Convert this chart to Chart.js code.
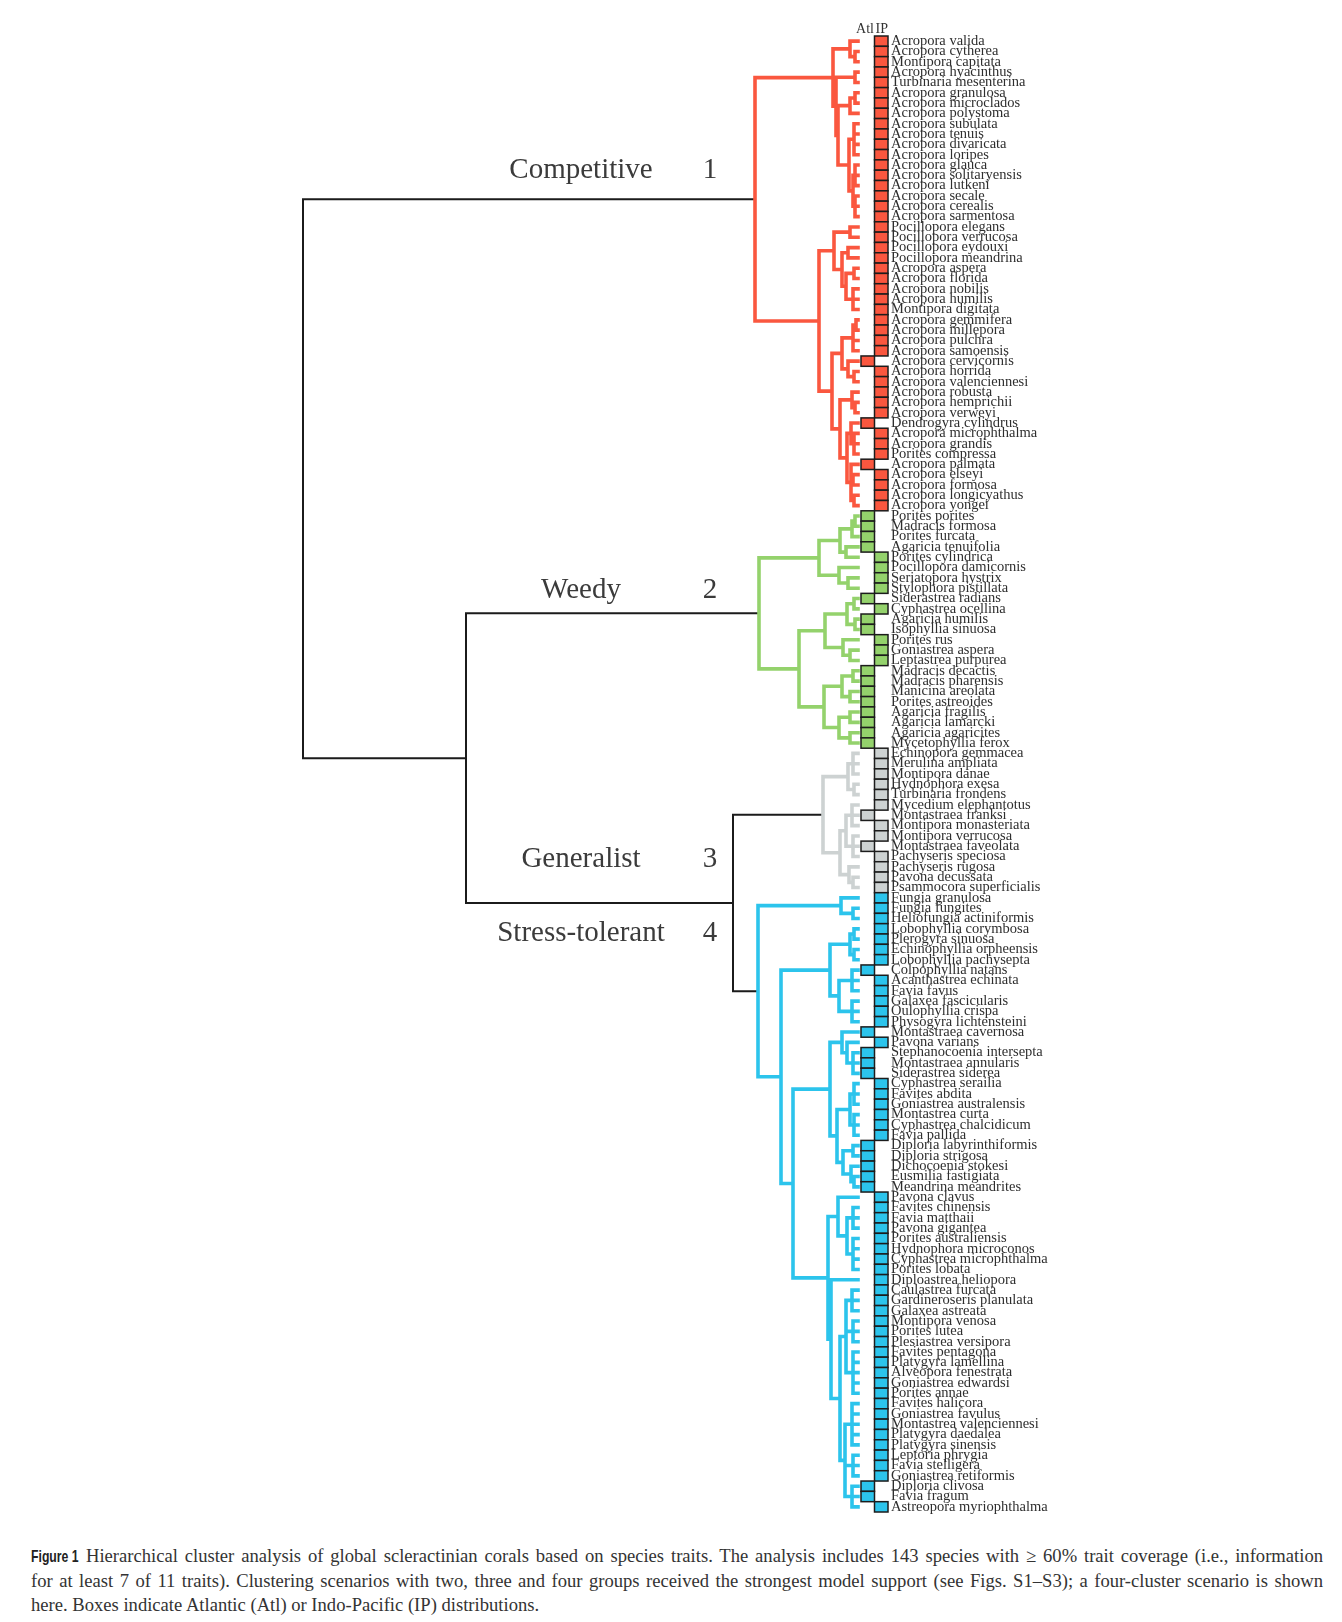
<!DOCTYPE html>
<html>
<head>
<meta charset="utf-8">
<script src="https://cdn.jsdelivr.net/npm/chart.js@4.4.0/dist/chart.umd.min.js"></script>
<style>
  html, body { margin: 0; padding: 0; background: #fff; }
  #page { position: relative; width: 1342px; height: 1622px; }
  #wrap { position: absolute; left: 0; top: 0; width: 1342px; height: 1530px; }
  #caption { position: absolute; left: 31px; top: 1544px; width: 1292px;
             font-family: "Liberation Serif", serif; font-size: 18.6px; line-height: 24px; color: #333; }
  #caption div { text-align: justify; text-align-last: justify; }
  #caption div.last { text-align-last: left; }
  #caption b { display: inline-block; font-family: "Liberation Sans", sans-serif; font-size: 17px;
               transform: scaleX(0.72); transform-origin: left center; margin-right: -18px; color: #222; }
</style>
</head>
<body>
<div id="page">
  <div id="wrap"><canvas id="chart"></canvas></div>
  <div id="caption">
    <div><b>Figure 1</b> Hierarchical cluster analysis of global scleractinian corals based on species traits. The analysis includes 143 species with &ge; 60% trait coverage (i.e., information</div>
    <div>for at least 7 of 11 traits). Clustering scenarios with two, three and four groups received the strongest model support (see Figs. S1&ndash;S3); a four-cluster scenario is shown</div>
    <div class="last">here. Boxes indicate Atlantic (Atl) or Indo-Pacific (IP) distributions.</div>
  </div>
</div>
<script>
// leaf order, top to bottom
const species = [
  'Acropora valida', 'Acropora cytherea', 'Montipora capitata', 'Acropora hyacinthus', 'Turbinaria mesenterina',
  'Acropora granulosa', 'Acropora microclados', 'Acropora polystoma', 'Acropora subulata', 'Acropora tenuis',
  'Acropora divaricata', 'Acropora loripes', 'Acropora glauca', 'Acropora solitaryensis', 'Acropora lutkeni',
  'Acropora secale', 'Acropora cerealis', 'Acropora sarmentosa', 'Pocillopora elegans', 'Pocillopora verrucosa',
  'Pocillopora eydouxi', 'Pocillopora meandrina', 'Acropora aspera', 'Acropora florida', 'Acropora nobilis',
  'Acropora humilis', 'Montipora digitata', 'Acropora gemmifera', 'Acropora millepora', 'Acropora pulchra',
  'Acropora samoensis', 'Acropora cervicornis', 'Acropora horrida', 'Acropora valenciennesi', 'Acropora robusta',
  'Acropora hemprichii', 'Acropora verweyi', 'Dendrogyra cylindrus', 'Acropora microphthalma', 'Acropora grandis',
  'Porites compressa', 'Acropora palmata', 'Acropora elseyi', 'Acropora formosa', 'Acropora longicyathus',
  'Acropora yongei',
  'Porites porites', 'Madracis formosa', 'Porites furcata', 'Agaricia tenuifolia', 'Porites cylindrica',
  'Pocillopora damicornis', 'Seriatopora hystrix', 'Stylophora pistillata', 'Siderastrea radians', 'Cyphastrea ocellina',
  'Agaricia humilis', 'Isophyllia sinuosa', 'Porites rus', 'Goniastrea aspera', 'Leptastrea purpurea',
  'Madracis decactis', 'Madracis pharensis', 'Manicina areolata', 'Porites astreoides', 'Agaricia fragilis',
  'Agaricia lamarcki', 'Agaricia agaricites', 'Mycetophyllia ferox',
  'Echinopora gemmacea', 'Merulina ampliata', 'Montipora danae', 'Hydnophora exesa', 'Turbinaria frondens',
  'Mycedium elephantotus', 'Montastraea franksi', 'Montipora monasteriata', 'Montipora verrucosa', 'Montastraea faveolata',
  'Pachyseris speciosa', 'Pachyseris rugosa', 'Pavona decussata', 'Psammocora superficialis',
  'Fungia granulosa', 'Fungia fungites', 'Heliofungia actiniformis', 'Lobophyllia corymbosa', 'Plerogyra sinuosa',
  'Echinophyllia orpheensis', 'Lobophyllia pachysepta', 'Colpophyllia natans', 'Acanthastrea echinata', 'Favia favus',
  'Galaxea fascicularis', 'Oulophyllia crispa', 'Physogyra lichtensteini', 'Montastraea cavernosa', 'Pavona varians',
  'Stephanocoenia intersepta', 'Montastraea annularis', 'Siderastrea siderea', 'Cyphastrea serailia', 'Favites abdita',
  'Goniastrea australensis', 'Montastrea curta', 'Cyphastrea chalcidicum', 'Favia pallida', 'Diploria labyrinthiformis',
  'Diploria strigosa', 'Dichocoenia stokesi', 'Eusmilia fastigiata', 'Meandrina meandrites', 'Pavona clavus',
  'Favites chinensis', 'Favia matthaii', 'Pavona gigantea', 'Porites australiensis', 'Hydnophora microconos',
  'Cyphastrea microphthalma', 'Porites lobata', 'Diploastrea heliopora', 'Caulastrea furcata', 'Gardineroseris planulata',
  'Galaxea astreata', 'Montipora venosa', 'Porites lutea', 'Plesiastrea versipora', 'Favites pentagona',
  'Platygyra lamellina', 'Alveopora fenestrata', 'Goniastrea edwardsi', 'Porites annae', 'Favites halicora',
  'Goniastrea favulus', 'Montastrea valenciennesi', 'Platygyra daedalea', 'Platygyra sinensis', 'Leptoria phrygia',
  'Favia stelligera', 'Goniastrea retiformis', 'Diploria clivosa', 'Favia fragum', 'Astreopora myriophthalma'
];

// leaves with an Atlantic box; all others are Indo-Pacific
const atlanticLeaves = [31, 37, 41, 46, 47, 48, 49, 54, 56, 57, 61, 62, 63, 64, 65, 66, 67, 68,
  75, 78, 90, 96, 98, 99, 100, 107, 108, 109, 110, 111, 140, 141];

// clusters as [mergeHeight, child, child, ...]; numbers are leaf indices
const competitiveTree = [1.03,
  [0.25, [0.08, 0, [0.03, 1, 2]],
    [0.22, [0.03, 3, 4],
      [0.20, [0.08, [0.03, 5, 6], 7],
        [0.09, [0.04, 8, 9, 10, 11], [0.05, [0.03, 12, 13, 14], [0.03, 15, 16, 17]]]]]],
  [0.39,
    [0.24, [0.08, 18, 19], [0.16, [0.10, 20, 21], [0.12, [0.04, 22, 23], [0.05, 24, 25, 26]]]],
    [0.26,
      [0.16, [0.05, [0.02, 27, 28], 29, 30], [0.10, 31, [0.04, 32, 33]]],
      [0.18, [0.06, 34, [0.03, 35, 36]],
        [0.11, [0.07, 37, [0.04, 38, 39, 40]], [0.07, 41, [0.05, 42, 43], [0.04, 44, 45]]]]]]];

const weedyTree = [0.99,
  [0.39, [0.18, [0.06, [0.03, 46, 47], 48], [0.12, 49, 50]], [0.19, 51, [0.10, 52, 53]]],
  [0.59,
    [0.33, [0.11, [0.04, 54, 55], [0.03, 56, 57]], [0.15, 58, [0.08, 59, 60]]],
    [0.34, [0.16, [0.05, 61, 62], [0.08, 63, 64]], [0.19, [0.08, 65, 66], [0.08, 67, 68]]]]];

const generalistTree = [0.35,
  [0.10, [0.05, 69, 70, 71], [0.04, 72, 73]],
  [0.18, [0.12, [0.06, 74, 75, 76], [0.05, 77, 78, 79]], [0.09, 80, [0.05, 81, 82]]]];

const stressTree = [1.00,
  [0.17, 83, [0.05, 84, 85]],
  [0.77,
    [0.28, [0.08, [0.04, 86, 87], [0.04, 88, 89]], [0.19, [0.06, 90, 91, 92], [0.06, 93, 94, 95]]],
    [0.65,
      [0.28, [0.16, 96, [0.11, 97, [0.05, 98, 99, 100]]],
        [0.21, [0.08, [0.04, 101, 102, 103], [0.04, 104, 105, 106]],
          [0.15, [0.05, 107, 108], [0.07, 109, [0.04, 110, 111]]]]],
      [0.30, [0.20, 112, [0.11, [0.05, 113, 114, 115], [0.05, 116, 117, 118, 119]]],
        [0.27, 120,
          [0.18, [0.12, [0.06, 121, 122, 123], [0.05, 124, 125, 126], [0.05, 127, 128, 129, 130, 131]],
            [0.13, [0.06, 132, 133, 134, 135, 136], [0.05, 137, 138, 139], [0.06, 140, 141, 142]]]]]]]];

const clusterNames = ['Competitive', 'Weedy', 'Generalist', 'Stress-tolerant'];
const clusterTrees = [competitiveTree, weedyTree, generalistTree, stressTree];
// root, weedy vs rest, generalist vs stress-tolerant
const mergeHeights = [5.55, 3.92, 1.25];

const clusterColors = ['#fa573f', '#94d26c', '#cdd2d2', '#2cc4ec'];
const linkColor = '#1b1b1b';

const segments = {};
const leafColor = [];

function addLine(color, x0, y0, x1, y1) {
  if (!segments[color]) segments[color] = [];
  segments[color].push({x: x0, y: y0}, {x: x1, y: y1}, {x: NaN, y: NaN});
}

function join(h, kids, color) {
  addLine(color, h, kids[0].y, h, kids[kids.length - 1].y);
  kids.forEach(function (k) { addLine(color, k.h, k.y, h, k.y); });
  return {h: h, y: (kids[0].y + kids[kids.length - 1].y) / 2};
}

function place(node, color) {
  if (typeof node === 'number') {
    leafColor[node] = color;
    return {h: 0, y: node};
  }
  var kids = node.slice(1).map(function (k) { return place(k, color); });
  return join(node[0], kids, color);
}

var clusters = clusterTrees.map(function (t, i) { return place(t, clusterColors[i]); });
var lower = join(mergeHeights[2], [clusters[2], clusters[3]], linkColor);
var middle = join(mergeHeights[1], [clusters[1], lower], linkColor);
join(mergeHeights[0], [clusters[0], middle], linkColor);

var datasets = Object.keys(segments).map(function (color) {
  return {
    data: segments[color],
    showLine: true,
    borderColor: color,
    borderWidth: color === linkColor ? 2 : 3.6,
    borderCapStyle: 'square',
    pointRadius: 0,
    spanGaps: false,
    order: color === linkColor ? 1 : 0
  };
});

// Atl / IP distribution boxes next to the leaves
const boxPlugin = {
  id: 'boxes',
  afterDatasetsDraw: function (chart) {
    var ctx = chart.ctx, xs = chart.scales.x, ys = chart.scales.y;
    var atl = [-0.03, -0.165], ip = [-0.165, -0.30];
    ctx.save();
    species.forEach(function (name, i) {
      var col = atlanticLeaves.indexOf(i) >= 0 ? atl : ip;
      var x0 = xs.getPixelForValue(col[0]), x1 = xs.getPixelForValue(col[1]);
      var y0 = ys.getPixelForValue(i - 0.5), y1 = ys.getPixelForValue(i + 0.5);
      ctx.fillStyle = leafColor[i];
      ctx.fillRect(x0, y0, x1 - x0, y1 - y0);
      ctx.strokeStyle = '#1c1c1c';
      ctx.lineWidth = 1.5;
      ctx.strokeRect(x0, y0, x1 - x0, y1 - y0);
    });
    ctx.fillStyle = '#333';
    ctx.font = '14px "Liberation Serif", serif';
    ctx.textBaseline = 'middle';
    var mid = xs.getPixelForValue(-0.165);
    ctx.textAlign = 'right';
    ctx.fillText('Atl', mid - 0.5, chart.chartArea.top - 7);
    ctx.textAlign = 'left';
    ctx.fillText('IP', mid + 1, chart.chartArea.top - 7);

    // cluster names and numbers
    var labelY = [12.5, 53.2, 79.3, 86.4];
    ctx.font = '29px "Liberation Serif", serif';
    ctx.fillStyle = '#3b3b3b';
    clusterNames.forEach(function (name, i) {
      var y = ys.getPixelForValue(labelY[i]);
      ctx.textAlign = 'center';
      ctx.fillText(name, xs.getPixelForValue(2.77), y);
      ctx.fillText(String(i + 1), xs.getPixelForValue(1.48), y);
    });
    ctx.restore();
  }
};

new Chart(document.getElementById('chart'), {
  type: 'scatter',
  data: {datasets: datasets},
  options: {
    responsive: true,
    maintainAspectRatio: false,
    animation: false,
    events: [],
    layout: {padding: {left: 298, top: 36, bottom: 18, right: 0}},
    plugins: {legend: {display: false}, tooltip: {enabled: false}},
    scales: {
      x: {type: 'linear', display: false, min: -0.30, max: 5.60, reverse: true},
      y: {
        type: 'linear', position: 'right', min: -0.5, max: 142.5, reverse: true,
        grid: {display: false, drawTicks: false},
        border: {display: false},
        afterBuildTicks: function (s) { s.ticks = species.map(function (n, i) { return {value: i}; }); },
        afterFit: function (s) { s.width = 454; },
        ticks: {
          autoSkip: false,
          padding: 3,
          color: '#2e2e2e',
          font: {family: '"Liberation Serif", serif', size: 14.5},
          callback: function (v) { return species[v]; }
        }
      }
    }
  },
  plugins: [boxPlugin]
});
</script>
</body>
</html>
